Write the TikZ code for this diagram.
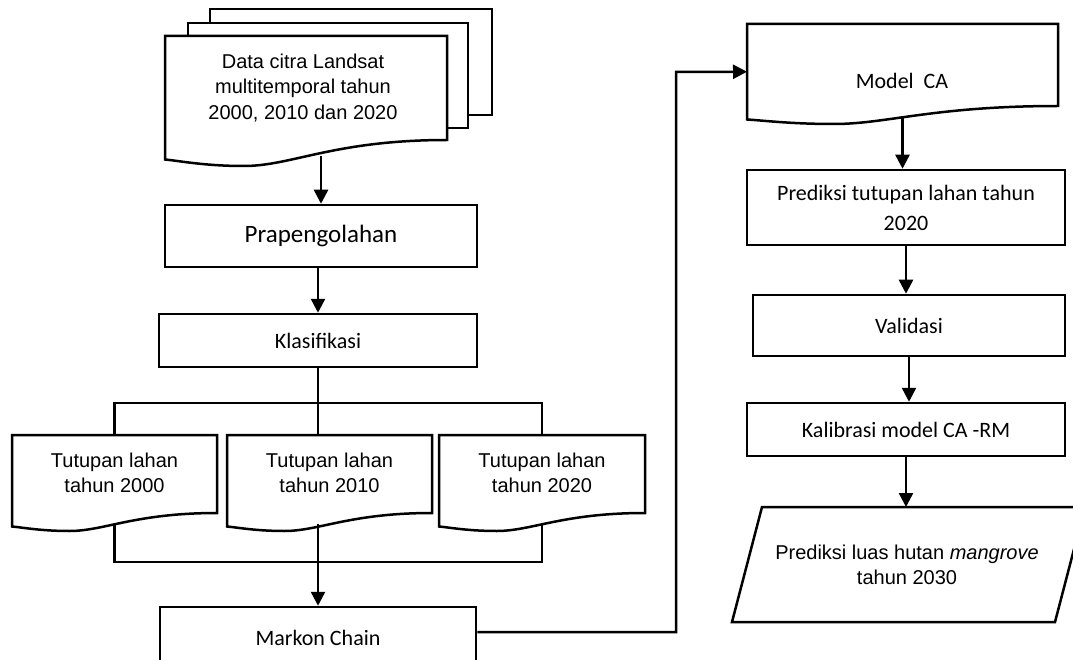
\documentclass[tikz,border=0pt]{standalone}
\usepackage{fontspec}
\setmainfont{Liberation Sans}
\newfontfamily\calibri{Carlito}
\usetikzlibrary{arrows.meta}

% bentuk dokumen: nama, x kiri, y atas, x kanan, y bawah kanan, tinggi gelombang
\newcommand{\dokumen}[6]{%
  \draw[garis, fill=white] (#2,#3) -- (#4,#3) -- (#4,#5)
    .. controls ({#2+0.6*(#4-#2)},#5) and ({#2+0.45*(#4-#2)},{#5+#6}) .. ({#2+0.28*(#4-#2)},{#5+#6})
    .. controls ({#2+0.14*(#4-#2)},{#5+#6}) and ({#2+0.05*(#4-#2)},{#5+0.8*#6}) .. (#2,{#5+0.75*#6}) -- cycle;
  \coordinate (#1-n) at ({(#2+#4)/2},#3);
  \coordinate (#1-s) at ({(#2+#4)/2},{#5+0.63*#6});
  \coordinate (#1-w) at (#2,{(#3+#5+0.75*#6)/2});
}

\begin{document}
\begin{tikzpicture}[x=1pt, y=-1pt,
  garis/.style={line width=2.5pt, line join=miter},
  panah/.style={garis, -{Triangle[width=14pt,length=14pt]}},
  tekscal/.style={align=center, font=\calibri\fontsize{22}{30}\selectfont},
  kotak/.style={tekscal, garis, draw, fill=white, inner sep=0pt},
  teks/.style={align=center, font=\fontsize{20}{25.5}\selectfont}]
  \useasboundingbox (0,0) rectangle (1073,660);
  \clip (0,0) rectangle (1073,660);

  % kolom kiri
  \draw[garis, fill=white] (210,9) rectangle (492,115);
  \draw[garis, fill=white] (188,23) rectangle (468,128);
  \dokumen{data}{165}{36}{447}{140}{26}
  \node[teks] (datacitra) at (303,88) {Data citra Landsat\\multitemporal tahun\\2000, 2010 dan 2020};

  \node[kotak, minimum width=312pt, minimum height=62pt, font=\calibri\fontsize{25}{30}\selectfont] (prapengolahan) at (321,236) {Prapengolahan};
  \node[kotak, minimum width=318pt, minimum height=53pt] (klasifikasi) at (318,340.5) {Klasifikasi};

  \dokumen{tl2000}{12}{435}{217}{513}{18}
  \dokumen{tl2010}{227}{435}{432}{513}{18}
  \dokumen{tl2020}{439}{435}{645}{513}{18}
  \node[teks] (tutupan2000) at (114.5,473) {Tutupan lahan\\tahun 2000};
  \node[teks] (tutupan2010) at (329.5,473) {Tutupan lahan\\tahun 2010};
  \node[teks] (tutupan2020) at (542,473) {Tutupan lahan\\tahun 2020};

  \node[kotak, minimum width=316pt, minimum height=62pt] (markon) at (318,638) {Markon Chain};

  \coordinate (cabang) at (318,403);
  \coordinate (gabung) at (318,562);
  \draw[panah] (data-s -| prapengolahan.north) -- (prapengolahan.north);
  \draw[panah] (prapengolahan.south -| klasifikasi.north) -- (klasifikasi.north);
  \draw[garis] (klasifikasi.south) -- (klasifikasi.south |- tl2010-n);
  \draw[garis] (tl2000-n) |- (cabang) -| (tl2020-n);
  \draw[garis] (tl2000-s) |- (gabung) -| (tl2020-s);
  \draw[panah] (markon.north |- tl2010-s) -- (markon.north);

  % kolom kanan
  \dokumen{modelca}{747}{24}{1058}{106}{18}
  \node[tekscal] (teksmodelca) at (902,81) {Model\ \ CA};
  \node[kotak, minimum width=318pt, minimum height=75pt] (prediksi) at (906,207.5) {Prediksi tutupan lahan tahun\\2020};
  \node[kotak, minimum width=312pt, minimum height=61pt] (validasi) at (909,325.5) {Validasi};
  \node[kotak, minimum width=318pt, minimum height=53pt] (kalibrasi) at (906,429.5) {Kalibrasi model CA -RM};
  \draw[garis, fill=white] (762,507) -- (1085,507) -- (1055,622) -- (732,622) -- cycle;
  \coordinate (jajar-n) at (908,507);
  \node[teks] (prediksiluas) at (907,565) {Prediksi luas hutan \textit{mangrove}\\tahun 2030};

  \coordinate (belok) at (676,72);
  \draw[panah] ([yshift=6pt]markon.east) -| (belok) -- (modelca-w);
  \draw[panah] (modelca-s) -- (modelca-s |- prediksi.north);
  \draw[panah] (prediksi.south) -- (prediksi.south |- validasi.north);
  \draw[panah] (validasi.south) -- (validasi.south |- kalibrasi.north);
  \draw[panah] (kalibrasi.south) -- (kalibrasi.south |- jajar-n);
\end{tikzpicture}
\end{document}
